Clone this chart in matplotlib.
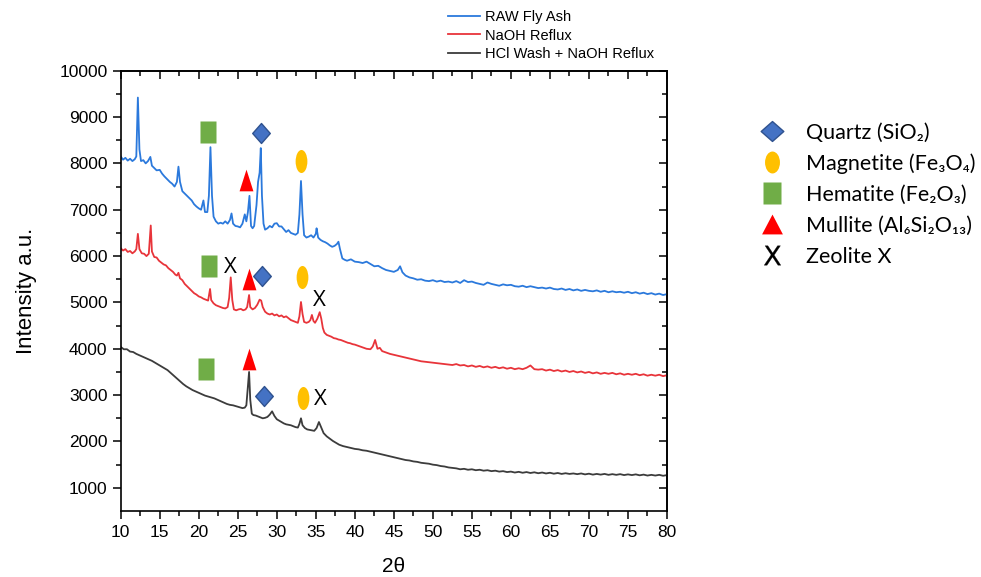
import matplotlib
matplotlib.use("Agg")
import matplotlib.pyplot as plt
from matplotlib.lines import Line2D
from matplotlib.path import Path
from matplotlib.font_manager import FontProperties
import numpy as np

# ---------------- data ----------------
raw_x = [10.0, 10.3, 10.6, 10.9, 11.2, 11.5, 11.8, 12.0, 12.2, 12.4, 12.6, 12.9, 13.2, 13.5, 13.8,
         14.0, 14.3, 14.6, 15.0, 15.3, 15.6, 16.0, 16.3, 16.6, 16.9, 17.2, 17.4, 17.6, 17.9, 18.2,
         18.5, 18.8, 19.1, 19.4, 19.7, 20.0, 20.3, 20.6, 20.8, 21.1, 21.3, 21.5, 21.7, 21.9, 22.2,
         22.5, 22.8, 23.1, 23.4, 23.7, 24.0, 24.2, 24.4, 24.7, 25.0, 25.3, 25.6, 25.9, 26.1, 26.3,
         26.5, 26.7, 26.9, 27.1, 27.4, 27.6, 27.8, 27.95, 28.1, 28.3, 28.5, 28.8, 29.1, 29.4, 29.7,
         30.0, 30.3, 30.6, 30.9, 31.2, 31.5, 31.8, 32.1, 32.4, 32.7, 32.9, 33.1, 33.3, 33.5, 33.8,
         34.1, 34.4, 34.7, 35.0, 35.1, 35.3, 35.6, 35.9, 36.2, 36.5, 36.8, 37.1, 37.4, 37.7, 37.9,
         38.1, 38.4, 38.7, 39.0, 39.5, 40.0, 40.5, 41.0, 41.5, 42.0, 42.5, 43.0, 43.5, 44.0, 44.5,
         45.0, 45.5, 45.8, 46.1, 46.5, 47.0, 47.5, 48.0, 48.5, 49.0, 49.5, 50.0, 50.5, 51.0, 51.5,
         52.0, 52.5, 53.0, 53.5, 54.0, 54.5, 55.0, 55.5, 56.0, 56.5, 57.0, 57.5, 58.0, 58.5, 59.0,
         59.5, 60.0, 60.5, 61.0, 61.5, 62.0, 62.5, 63.0, 63.5, 64.0, 64.5, 65.0, 65.5, 66.0, 66.5,
         67.0, 67.5, 68.0, 68.5, 69.0, 69.5, 70.0, 70.5, 71.0, 71.5, 72.0, 72.5, 73.0, 73.5, 74.0,
         74.5, 75.0, 75.5, 76.0, 76.5, 77.0, 77.5, 78.0, 78.5, 79.0, 79.5, 80.0]
raw_y = [8150, 8080, 8120, 8060, 8100, 8050, 8090, 8150, 9420, 8300, 8050, 8070, 8000, 8050, 8140,
         7950, 7900, 7850, 7860, 7780, 7720, 7650, 7600, 7560, 7500, 7600, 7930, 7600, 7400, 7350,
         7300, 7250, 7200, 7120, 7070, 7030, 7000, 7200, 6950, 6950, 7300, 8350, 7300, 6850, 6750,
         6700, 6720, 6700, 6750, 6700, 6780, 6920, 6700, 6650, 6640, 6620, 6700, 6900, 6750, 6950,
         7300, 6650, 6600, 6650, 7100, 7600, 7800, 8330, 7300, 6700, 6570, 6600, 6650, 6620, 6700,
         6710, 6640, 6640, 6580, 6520, 6560, 6500, 6480, 6460, 6500, 6900, 7620, 6900, 6450, 6400,
         6420, 6450, 6400, 6480, 6600, 6400, 6350, 6320, 6300, 6270, 6230, 6200, 6220, 6260, 6310,
         6150, 5950, 5920, 5900, 5930, 5880, 5870, 5850, 5880, 5830, 5780, 5790, 5740, 5700, 5680,
         5660, 5700, 5780, 5650, 5580, 5540, 5520, 5490, 5500, 5470, 5460, 5480, 5450, 5470, 5440,
         5450, 5430, 5460, 5420, 5480, 5440, 5450, 5420, 5400, 5380, 5430, 5400, 5380, 5360, 5390,
         5370, 5380, 5350, 5340, 5360, 5330, 5350, 5330, 5310, 5320, 5300, 5320, 5290, 5280, 5300,
         5270, 5290, 5260, 5280, 5250, 5270, 5250, 5240, 5260, 5230, 5250, 5220, 5240, 5220, 5230,
         5210, 5230, 5200, 5220, 5190, 5210, 5180, 5200, 5170, 5190, 5160, 5180]

naoh_x = [10.0, 10.3, 10.6, 10.9, 11.2, 11.5, 11.8, 12.0, 12.2, 12.4, 12.7, 13.0, 13.3, 13.6, 13.85,
          14.0, 14.3, 14.6, 14.9, 15.2, 15.5, 15.8, 16.1, 16.4, 16.7, 17.0, 17.2, 17.4, 17.6, 17.9,
          18.2, 18.5, 18.8, 19.1, 19.4, 19.7, 20.0, 20.3, 20.6, 20.9, 21.2, 21.45, 21.6, 21.9, 22.2,
          22.5, 22.8, 23.1, 23.4, 23.7, 23.9, 24.1, 24.3, 24.5, 24.8, 25.1, 25.4, 25.7, 26.0, 26.2,
          26.45, 26.6, 26.9, 27.2, 27.5, 27.8, 28.0, 28.2, 28.5, 28.8, 29.1, 29.4, 29.7, 30.0, 30.3,
          30.6, 30.9, 31.2, 31.5, 31.8, 32.1, 32.4, 32.7, 32.9, 33.1, 33.3, 33.5, 33.8, 34.1, 34.3,
          34.5, 34.7, 34.9, 35.2, 35.5, 35.7, 35.9, 36.1, 36.4, 36.7, 37.0, 37.3, 37.6, 37.9, 38.2,
          38.5, 38.8, 39.1, 39.4, 39.7, 40.0, 40.5, 41.0, 41.5, 42.0, 42.3, 42.6, 42.9, 43.2, 43.5,
          44.0, 44.5, 45.0, 45.5, 46.0, 46.5, 47.0, 47.5, 48.0, 48.5, 49.0, 49.5, 50.0, 50.5, 51.0,
          51.5, 52.0, 52.5, 53.0, 53.5, 54.0, 54.5, 55.0, 55.5, 56.0, 56.5, 57.0, 57.5, 58.0, 58.5,
          59.0, 59.5, 60.0, 60.5, 61.0, 61.5, 62.0, 62.5, 63.0, 63.5, 64.0, 64.5, 65.0, 65.5, 66.0,
          66.5, 67.0, 67.5, 68.0, 68.5, 69.0, 69.5, 70.0, 70.5, 71.0, 71.5, 72.0, 72.5, 73.0, 73.5,
          74.0, 74.5, 75.0, 75.5, 76.0, 76.5, 77.0, 77.5, 78.0, 78.5, 79.0, 79.5, 80.0]
naoh_y = [6170, 6120, 6150, 6090, 6110, 6060, 6100, 6150, 6480, 6150, 6060, 6050, 6000, 6050, 6660,
          6100, 5980, 5970, 5900, 5860, 5820, 5800, 5740, 5700, 5660, 5600, 5580, 5640, 5520, 5480,
          5400, 5350, 5300, 5250, 5200, 5170, 5130, 5110, 5080, 5060, 5040, 5290, 5050, 4980, 4940,
          4920, 4900, 4880, 4870, 4900, 5100, 5540, 5050, 4850, 4830, 4850, 4860, 4830, 4850, 4900,
          5160, 4900, 4850, 4880, 4950, 5060, 5040, 4900, 4800, 4760, 4740, 4760, 4720, 4740, 4700,
          4720, 4680, 4700, 4660, 4620, 4600, 4580, 4560, 4700, 5010, 4750, 4580, 4560, 4580, 4620,
          4730, 4600, 4560, 4650, 4790, 4650, 4450, 4350, 4300, 4280, 4260, 4230, 4220, 4200, 4190,
          4170, 4150, 4130, 4120, 4100, 4090, 4060, 4030, 4000, 3990, 4050, 4190, 4000, 4020, 3950,
          3920, 3890, 3870, 3850, 3830, 3810, 3790, 3770, 3750, 3730, 3720, 3710, 3700, 3690, 3680,
          3670, 3660, 3650, 3670, 3640, 3650, 3620, 3640, 3610, 3630, 3600, 3620, 3590, 3610, 3580,
          3600, 3570, 3590, 3560, 3580, 3560, 3590, 3640, 3560, 3550, 3560, 3530, 3550, 3520, 3540,
          3510, 3530, 3500, 3520, 3490, 3510, 3480, 3500, 3470, 3490, 3460, 3480, 3460, 3480, 3450,
          3470, 3440, 3460, 3440, 3460, 3430, 3450, 3420, 3440, 3420, 3440, 3410, 3430]

hcl_x = [10.0, 10.4, 10.8, 11.2, 11.6, 12.0, 12.4, 12.8, 13.2, 13.6, 14.0, 14.4, 14.8, 15.2, 15.6,
         16.0, 16.4, 16.8, 17.2, 17.6, 18.0, 18.4, 18.8, 19.2, 19.6, 20.0, 20.4, 20.8, 21.2, 21.6,
         22.0, 22.4, 22.8, 23.2, 23.6, 24.0, 24.4, 24.8, 25.2, 25.6, 25.9, 26.1, 26.3, 26.45, 26.6,
         26.8, 27.0, 27.3, 27.6, 27.9, 28.2, 28.5, 28.8, 29.1, 29.4, 29.7, 30.0, 30.3, 30.6, 30.9,
         31.2, 31.5, 31.8, 32.1, 32.4, 32.7, 32.9, 33.1, 33.3, 33.6, 33.9, 34.2, 34.5, 34.8, 35.1,
         35.4, 35.7, 36.0, 36.4, 36.8, 37.2, 37.6, 38.0, 38.5, 39.0, 39.5, 40.0, 40.5, 41.0, 41.5,
         42.0, 42.5, 43.0, 43.5, 44.0, 44.5, 45.0, 45.5, 46.0, 46.5, 47.0, 47.5, 48.0, 48.5, 49.0,
         49.5, 50.0, 50.5, 51.0, 51.5, 52.0, 52.5, 53.0, 53.5, 54.0, 54.5, 55.0, 55.5, 56.0, 56.5,
         57.0, 57.5, 58.0, 58.5, 59.0, 59.5, 60.0, 60.5, 61.0, 61.5, 62.0, 62.5, 63.0, 63.5, 64.0,
         64.5, 65.0, 65.5, 66.0, 66.5, 67.0, 67.5, 68.0, 68.5, 69.0, 69.5, 70.0, 70.5, 71.0, 71.5,
         72.0, 72.5, 73.0, 73.5, 74.0, 74.5, 75.0, 75.5, 76.0, 76.5, 77.0, 77.5, 78.0, 78.5, 79.0,
         79.5, 80.0]
hcl_y = [4040, 3990, 3990, 3940, 3930, 3890, 3860, 3830, 3800, 3770, 3740, 3700, 3660, 3620, 3580,
         3540, 3480, 3420, 3360, 3300, 3240, 3190, 3150, 3110, 3080, 3050, 3020, 2990, 2970, 2950,
         2930, 2900, 2870, 2840, 2810, 2790, 2780, 2760, 2740, 2720, 2730, 2780, 3200, 3500, 2900,
         2600, 2570, 2560, 2540, 2520, 2500, 2510, 2530, 2580, 2650, 2550, 2480, 2450, 2420, 2390,
         2370, 2360, 2350, 2330, 2310, 2300, 2380, 2500, 2350, 2290, 2260, 2250, 2240, 2230, 2290,
         2420, 2300, 2180, 2110, 2060, 2010, 1970, 1930, 1900, 1880, 1860, 1840, 1830, 1810, 1800,
         1780, 1760, 1740, 1720, 1700, 1680, 1660, 1640, 1620, 1600, 1590, 1570, 1560, 1540, 1530,
         1520, 1500, 1490, 1470, 1460, 1440, 1430, 1420, 1400, 1410, 1390, 1400, 1380, 1390, 1370,
         1380, 1360, 1370, 1350, 1360, 1340, 1350, 1330, 1345, 1325, 1340, 1320, 1335, 1315, 1330,
         1310, 1325, 1305, 1320, 1300, 1315, 1300, 1310, 1295, 1310, 1290, 1305, 1285, 1300, 1285,
         1300, 1280, 1295, 1280, 1295, 1275, 1290, 1275, 1290, 1270, 1285, 1265, 1280, 1265, 1280,
         1260, 1275]

series_labels = ["RAW Fly Ash", "NaOH Reflux", "HCl Wash + NaOH Reflux"]
series_colors = ["#2b79dc", "#e8343a", "#3c3c3c"]

# phase annotation marks (2theta, intensity) per phase
quartz_x = [27.95, 28.1, 28.4]
quartz_y = [8660, 5580, 2990]
magnetite_x = [33.1, 33.2, 33.3]
magnetite_y = [8050, 5540, 2935]
hematite_x = [21.2, 21.3, 20.9]
hematite_y = [8670, 5790, 3560]
mullite_x = [26.0, 26.4, 26.4]
mullite_y = [7640, 5500, 3780]
zeolite_x = [24.0, 35.5, 35.6]
zeolite_y = [5750, 5040, 2900]

phase_labels = ["Quartz (SiO₂)", "Magnetite (Fe₃O₄)", "Hematite (Fe₂O₃)",
                "Mullite (Al₆Si₂O₁₃)", "Zeolite X"]

# ---------------- marker shapes ----------------
def poly(hw, hh, kind):
    if kind == "rect":
        v = [(-hw, -hh), (hw, -hh), (hw, hh), (-hw, hh), (-hw, -hh)]
    elif kind == "diamond":
        v = [(0, -hh), (hw, 0), (0, hh), (-hw, 0), (0, -hh)]
    else:  # triangle
        v = [(-hw, -hh), (hw, -hh), (0, hh), (-hw, -hh)]
    return Path(v, closed=True)

def ellipse(hw, hh):
    c = Path.unit_circle()
    return Path(c.vertices * np.array([hw, hh]), c.codes)

m_rect = poly(0.35, 0.5, "rect")
m_diam = poly(0.44, 0.5, "diamond")
m_ell = ellipse(0.255, 0.5)
m_tri = poly(0.32, 0.5, "tri")

c_quartz, e_quartz = "#4472c4", "#2f528f"
c_magn = "#ffc000"
c_hem = "#70ad47"
c_mul = "#ff0000"

# ---------------- figure ----------------
fig = plt.figure(figsize=(9.81, 5.77), dpi=100)
ax = fig.add_axes([120.7 / 981, 1 - 511 / 577, (667 - 120.7) / 981, (511 - 70.7) / 577])

lines = []
for xs, ys, lab, col in zip([raw_x, naoh_x, hcl_x], [raw_y, naoh_y, hcl_y], series_labels, series_colors):
    ln, = ax.plot(xs, ys, color=col, lw=1.3, label=lab)
    lines.append(ln)

ax.plot(quartz_x, quartz_y, ls="none", marker=m_diam, ms=14.4, mfc=c_quartz, mec=e_quartz, mew=1.0)
ax.plot(magnetite_x, magnetite_y, ls="none", marker=m_ell, ms=16.6, mfc=c_magn, mec="none")
ax.plot(hematite_x, hematite_y, ls="none", marker=m_rect, ms=15.8, mfc=c_hem, mec="none")
ax.plot(mullite_x, mullite_y, ls="none", marker=m_tri, ms=15.6, mfc=c_mul, mec="none")
for zx, zy in zip(zeolite_x, zeolite_y):
    ax.text(zx, zy, "X", ha="center", va="center", fontsize=16,
            family=["Open Sans", "DejaVu Sans"], color="black")

ax.set_xlim(10, 80)
ax.set_ylim(500, 10000)
ax.set_xticks(np.arange(10, 81, 5))
ax.set_yticks(np.arange(1000, 10001, 1000))
ax.set_xticks(np.arange(12.5, 80, 5), minor=True)
ax.set_yticks(np.arange(1500, 10000, 1000), minor=True)

tick_font = "Liberation Sans"
for lab in ax.get_xticklabels() + ax.get_yticklabels():
    lab.set_family(tick_font)
ax.tick_params(axis="both", which="major", labelsize=12.5, length=6, width=1.1, color="black")
ax.tick_params(axis="both", which="minor", length=3.5, width=1.1)
ax.tick_params(axis="x", which="both", direction="out", top=False)
ax.tick_params(axis="y", which="both", direction="out", right=False)
ax.xaxis.set_tick_params(pad=4)

# inward ticks on top / right
secx = ax.secondary_xaxis("top")
secx.set_xticks(np.arange(10, 81, 5))
secx.set_xticks(np.arange(12.5, 80, 5), minor=True)
secx.tick_params(which="major", direction="in", length=6, width=1.1, labeltop=False)
secx.tick_params(which="minor", direction="in", length=3.5, width=1.1)
secx.spines["top"].set_linewidth(1.2)
secy = ax.secondary_yaxis("right")
secy.set_yticks(np.arange(1000, 10001, 1000))
secy.set_yticks(np.arange(1500, 10000, 1000), minor=True)
secy.tick_params(which="major", direction="in", length=6, width=1.1, labelright=False)
secy.tick_params(which="minor", direction="in", length=3.5, width=1.1)
secy.spines["right"].set_linewidth(1.2)

for s in ax.spines.values():
    s.set_linewidth(1.2)

ax.set_ylabel("Intensity a.u.", fontsize=16, family=tick_font, labelpad=16)
ax.set_xlabel("2θ", fontsize=15, family=tick_font, labelpad=12)

# series legend (top)
fig.legend(handles=lines, labels=series_labels, loc="upper left",
           bbox_to_anchor=(435 / 981, 1 + 3 / 577), frameon=False,
           prop=FontProperties(family=tick_font, size=10.5),
           handlelength=2.2, handletextpad=0.35, labelspacing=0.3,
           borderpad=0.4)

# phase legend (right)
lg_diam = poly(0.5, 0.44, "diamond")
lg_ell = ellipse(0.34, 0.5)
lg_rect = poly(0.39, 0.5, "rect")
lg_tri = poly(0.5, 0.476, "tri")
handles = [
    Line2D([], [], ls="none", marker=lg_diam, ms=16.3, mfc=c_quartz, mec=e_quartz, mew=1.0),
    Line2D([], [], ls="none", marker=lg_ell, ms=15.8, mfc=c_magn, mec="none"),
    Line2D([], [], ls="none", marker=lg_rect, ms=15.8, mfc=c_hem, mec="none"),
    Line2D([], [], ls="none", marker=lg_tri, ms=15.0, mfc=c_mul, mec="none"),
    Line2D([], [], ls="none", marker=r"$\mathrm{X}$", ms=14, mfc="black", mec="black", mew=0.2),
]
fig.legend(handles=handles, labels=phase_labels, loc="upper left",
           bbox_to_anchor=(736.5 / 981, 1 - 103 / 577), frameon=False,
           prop=FontProperties(family=["Lato", "DejaVu Sans"], size=15.5),
           handlelength=1.5, handletextpad=0.84, labelspacing=0.51, borderpad=0.4)

fig.savefig("out.png", dpi=100)
